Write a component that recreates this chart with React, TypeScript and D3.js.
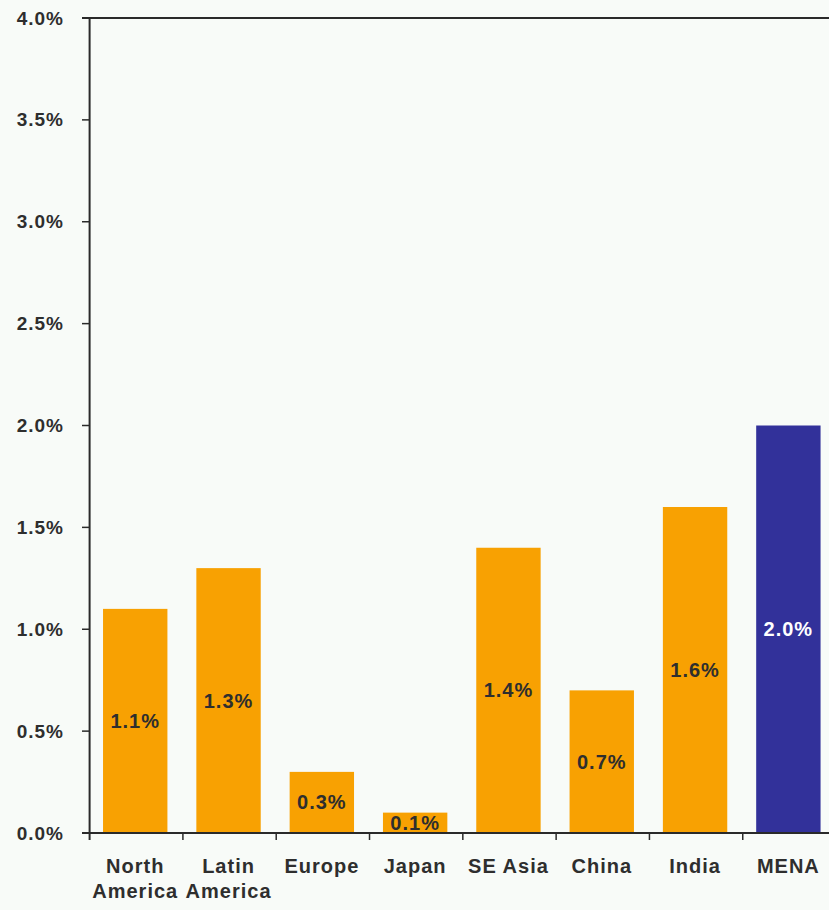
import React from "react";
import * as d3 from "d3";

const categories = ["North America", "Latin America", "Europe", "Japan", "SE Asia", "China", "India", "MENA"];
const labelLines = [["North", "America"], ["Latin", "America"], ["Europe"], ["Japan"], ["SE Asia"], ["China"], ["India"], ["MENA"]];
const values = [1.1, 1.3, 0.3, 0.1, 1.4, 0.7, 1.6, 2.0];
const highlight = ["MENA"];
const yTicks = [0, 0.5, 1.0, 1.5, 2.0, 2.5, 3.0, 3.5, 4.0];

export default function App() {
  const W = 829, H = 910;
  const left = 89.6, top = 18, bottom = 833;
  const x = d3.scaleBand<string>().domain(categories).range([left, left + 744.4]).paddingInner(0.31).paddingOuter(0.144);
  const y = d3.scaleLinear().domain([0, 4]).range([bottom, top]);
  const step = x.step();
  const orange = "#f8a102";
  const navy = "#32319a";
  const axisColor = "#2a2a2a";
  const textColor = "#2e2e2e";
  const font = "'Liberation Sans', Arial, sans-serif";
  return (
    <svg width={W} height={H} style={{ position: "absolute", left: 0, top: 0 }} fontFamily={font}>
      <rect x={0} y={0} width={W} height={H} fill="#f8fbf8" />
      {categories.map((c, i) => {
        const v = values[i];
        const hi = highlight.includes(c);
        const bx = x(c)!;
        const bw = x.bandwidth();
        return (
          <g key={c}>
            <rect x={bx} y={y(v)} width={bw} height={y(0) - y(v)} fill={hi ? navy : orange} />
            <text x={bx + bw / 2} y={(y(v) + y(0)) / 2} textAnchor="middle" dominantBaseline="central"
              fontSize={20} fontWeight="bold" letterSpacing={1} fill={hi ? "#ffffff" : textColor}>
              {d3.format(".1f")(v) + "%"}
            </text>
          </g>
        );
      })}
      {/* top border */}
      <line x1={82} x2={W} y1={top} y2={top} stroke={axisColor} strokeWidth={2} />
      {/* y axis */}
      <line x1={left} x2={left} y1={top} y2={bottom + 7} stroke={axisColor} strokeWidth={2} />
      {yTicks.map((t) => (
        <g key={t}>
          <line x1={82} x2={left} y1={y(t)} y2={y(t)} stroke={axisColor} strokeWidth={1.5} />
          <text x={64} y={y(t)} textAnchor="end" dominantBaseline="central" fontSize={19} fontWeight="bold"
            letterSpacing={1} fill={textColor}>
            {d3.format(".1f")(t) + "%"}
          </text>
        </g>
      ))}
      {/* x axis */}
      <line x1={82} x2={W} y1={bottom} y2={bottom} stroke={axisColor} strokeWidth={2} />
      {categories.map((c, i) => (
        <line key={"t" + c} x1={left + (i + 1) * step} x2={left + (i + 1) * step} y1={bottom} y2={bottom + 7}
          stroke={axisColor} strokeWidth={1.5} />
      ))}
      {categories.map((c, i) => (
        <text key={"l" + c} textAnchor="middle" fontSize={20} fontWeight="bold" letterSpacing={1} fill={textColor}>
          {labelLines[i].map((ln, j) => (
            <tspan key={j} x={x(c)! + x.bandwidth() / 2} y={873 + j * 25}>{ln}</tspan>
          ))}
        </text>
      ))}
    </svg>
  );
}
